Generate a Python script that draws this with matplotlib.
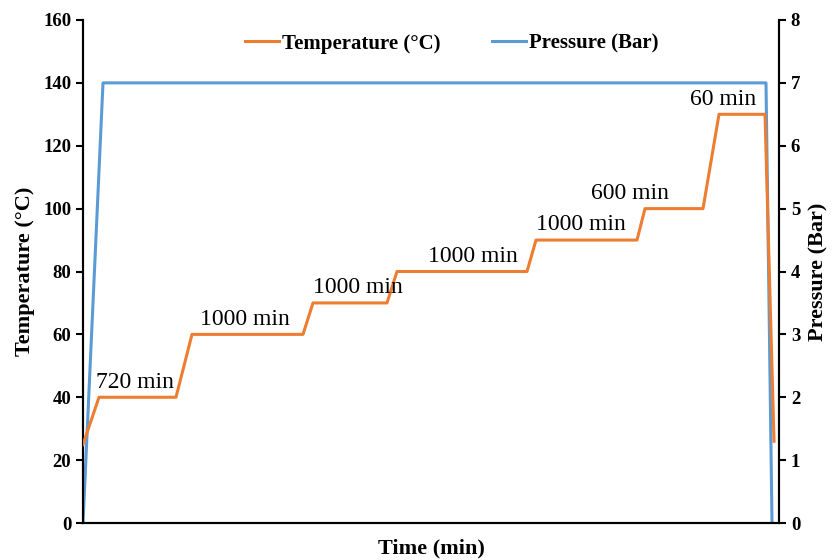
import matplotlib.pyplot as plt
from matplotlib.lines import Line2D

plt.rcParams['font.family'] = ['Liberation Serif', 'DejaVu Serif']

# time in arbitrary units (x axis has no tick labels)
temp_time = [0, 16, 93, 109, 220, 230, 304, 314, 444, 453, 554, 562, 620, 636, 682, 691]
temp_vals = [25, 40, 40, 60, 60, 70, 70, 80, 80, 90, 90, 100, 100, 130, 130, 26]
pres_time = [0, 20, 683, 689]
pres_vals = [0, 7, 7, 0]

hold_labels = ['720 min', '1000 min', '1000 min', '1000 min', '1000 min', '600 min', '60 min']
hold_pos = [(13, 41.5), (117, 61.5), (230, 71.5), (345, 81.5), (453, 91.5), (508, 101.5), (607, 131.5)]

orange = '#ED7D31'
blue = '#5B9BD5'

fig = plt.figure(figsize=(8.37, 5.6), dpi=100)
ax = fig.add_axes([83/837, 37/560, 696/837, 503/560])
ax2 = ax.twinx()

ax.plot(temp_time, temp_vals, color=orange, lw=2.2, zorder=3)
ax2.plot(pres_time, pres_vals, color=blue, lw=2.2)
ax.set_zorder(ax2.get_zorder() + 1)
ax.patch.set_visible(False)

ax.set_xlim(0, 696)
ax.set_ylim(0, 160)
ax2.set_ylim(0, 8)
ax.set_yticks(range(0, 161, 20))
ax2.set_yticks(range(0, 9))
ax.set_xticks([])

for a in (ax, ax2):
    a.spines['top'].set_visible(False)
    for s in a.spines.values():
        s.set_linewidth(1.5)
    a.tick_params(axis='y', direction='out', length=5, width=1.5, labelsize=13.5)
    for lbl in a.get_yticklabels():
        lbl.set_fontweight('bold')

ax.set_xlabel('Time (min)', fontsize=16, fontweight='bold', labelpad=11)
ax.set_ylabel('Temperature (°C)', fontsize=16, fontweight='bold', labelpad=6)
ax2.set_ylabel('Pressure (Bar)', fontsize=16, fontweight='bold', labelpad=6)

for txt, (x, y) in zip(hold_labels, hold_pos):
    ax.text(x, y, txt, fontsize=17, ha='left', va='bottom')

handles = [Line2D([], [], color=orange, lw=2.2), Line2D([], [], color=blue, lw=2.2)]
ax.legend(handles, ['Temperature (°C)', 'Pressure (Bar)'], ncol=2, frameon=False,
          loc='upper center', bbox_to_anchor=(0.53, 1.01), handlelength=1.6,
          handletextpad=0.15, columnspacing=2.5,
          prop={'size': 15, 'weight': 'bold'})

fig.savefig('out.png', dpi=100)
